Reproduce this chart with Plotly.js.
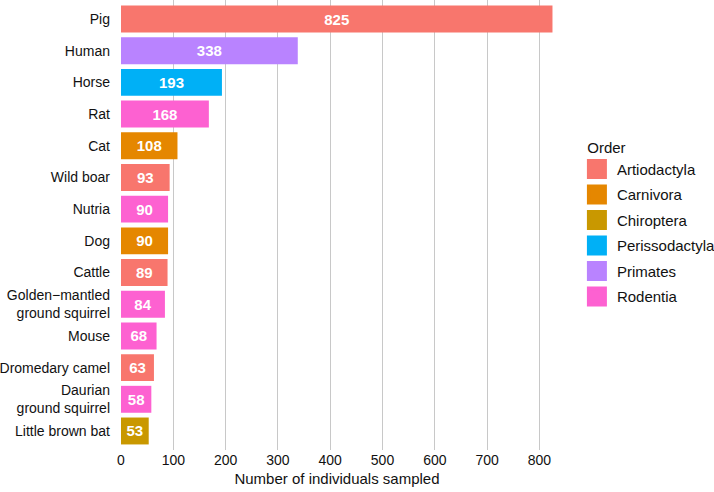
<!DOCTYPE html>
<html>
<head>
<meta charset="utf-8">
<script src="https://cdn.plot.ly/plotly-3.0.1.min.js"></script>
<style>html,body{margin:0;padding:0;background:#fff}#chart{width:714px;height:492px}</style>
</head>
<body>
<div id="chart"></div>
<script>
const species = ["Pig","Human","Horse","Rat","Cat","Wild boar","Nutria","Dog","Cattle","Golden\u2212mantled<br>ground squirrel","Mouse","Dromedary camel","Daurian<br>ground squirrel","Little brown bat"];
const counts = [825,338,193,168,108,93,90,90,89,84,68,63,58,53];
const orders = ["Artiodactyla","Primates","Perissodactyla","Rodentia","Carnivora","Artiodactyla","Rodentia","Carnivora","Artiodactyla","Rodentia","Rodentia","Artiodactyla","Rodentia","Chiroptera"];
const orderLevels = ["Artiodactyla","Carnivora","Chiroptera","Perissodactyla","Primates","Rodentia"];
const orderColors = ["#F8766D","#E58700","#C99800","#00B0F6","#B983FF","#FD61D1"];
const xTicks = [0,100,200,300,400,500,600,700,800];

const font = "Liberation Sans, Arial, Helvetica, sans-serif";
const txt = "#111111";
const traces = [];
orderLevels.forEach((lvl, i) => {
  const xs = [], ys = [];
  species.forEach((s, j) => { if (orders[j] === lvl) { xs.push(counts[j]); ys.push(s); } });
  traces.push({
    type: "bar", orientation: "h", x: xs, y: ys, name: lvl,
    marker: {color: orderColors[i]}, width: 0.85,
    text: xs.map(String), textposition: "inside", insidetextanchor: "middle",
    textfont: {color: "#ffffff", size: 15, family: font, weight: "bold"},
    constraintext: "none", showlegend: false, hoverinfo: "x+y"
  });
  traces.push({
    type: "scatter", mode: "markers", x: [null], y: [null], name: lvl, legendgroup: lvl,
    marker: {symbol: "square", size: 16, color: orderColors[i], line: {color: orderColors[i], width: 4}},
    showlegend: true
  });
});

const layout = {
  width: 714, height: 492,
  margin: {l: 121, r: 161, t: 0, b: 42, pad: 0},
  paper_bgcolor: "#ffffff", plot_bgcolor: "#ffffff",
  font: {family: font, size: 14, color: txt},
  barmode: "overlay",
  xaxis: {
    range: [0, 826], tickvals: xTicks, ticktext: xTicks.map(String),
    showgrid: true, gridcolor: "#c8c8c8", gridwidth: 1.2, zeroline: false,
    showline: false, ticks: "", ticklen: 0,
    tickfont: {size: 14, color: txt},
    title: {text: "Number of individuals sampled", font: {size: 15, color: txt}, standoff: 6},
    fixedrange: true
  },
  yaxis: {
    type: "category", categoryorder: "array", categoryarray: species.slice().reverse(),
    range: [-0.6, species.length - 0.4], showgrid: false, zeroline: false, showline: false,
    ticks: "", ticklabelstandoff: 10,
    tickfont: {size: 14, color: txt}, fixedrange: true
  },
  showlegend: true,
  legend: {
    xref: "container", yref: "container", x: 0.808, y: 0.729, xanchor: "left", yanchor: "top",
    title: {text: "\u00a0\u00a0Order", font: {size: 15, color: txt}},
    font: {size: 15, color: txt}, itemsizing: "trace", bgcolor: "rgba(0,0,0,0)",
    traceorder: "grouped", tracegroupgap: 3
  }
};
Plotly.newPlot("chart", traces, layout, {displayModeBar: false, staticPlot: true});
</script>
</body>
</html>
